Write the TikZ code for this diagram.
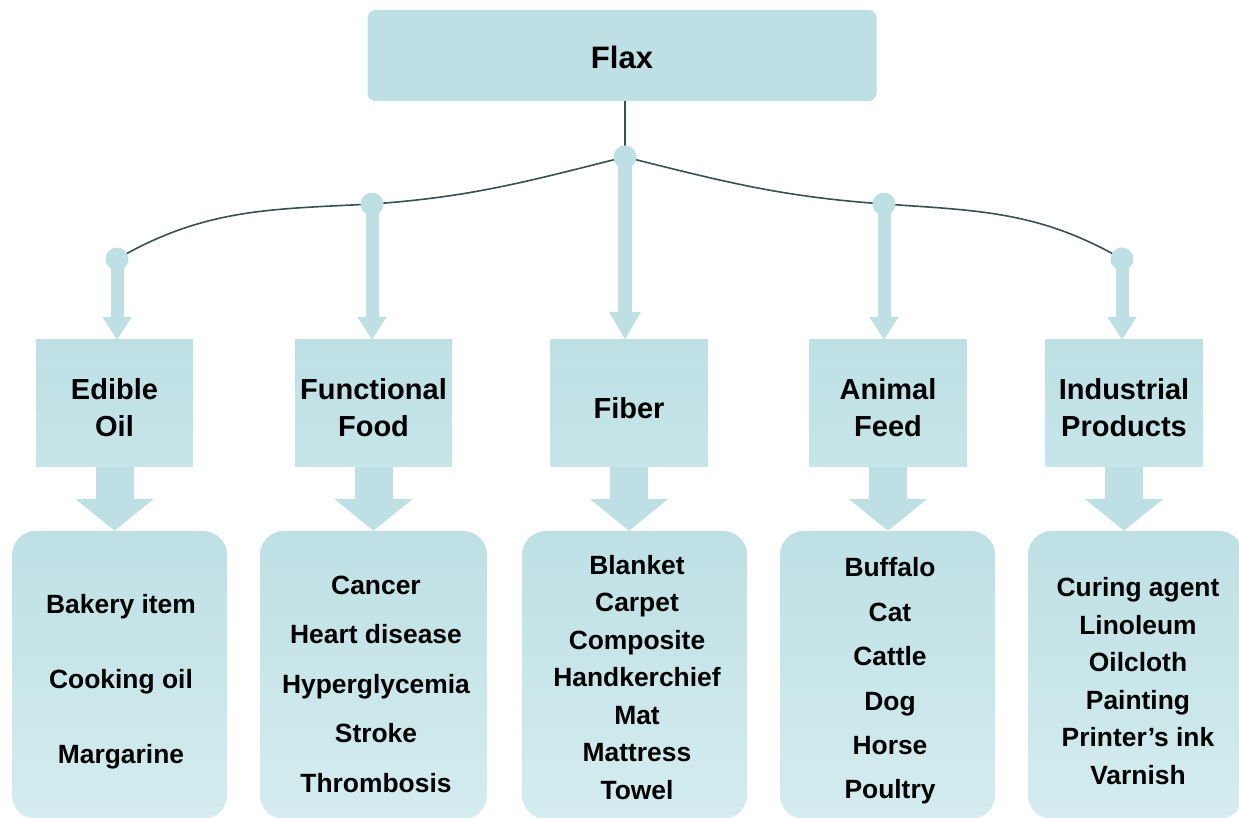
\documentclass[tikz,border=0pt]{standalone}
\usepackage{fontspec}
\setmainfont{Liberation Sans}
\usetikzlibrary{arrows.meta,calc}
\definecolor{flaxfill}{RGB}{190,224,228}
\definecolor{flaxmid}{RGB}{198,229,232}
\definecolor{flaxlight}{RGB}{212,236,239}
\definecolor{wire}{RGB}{55,80,82}
\begin{document}
\begin{tikzpicture}[x=1pt,y=1pt,
  topbox/.style={fill=flaxfill, rounded corners=8pt, minimum width=509pt, minimum height=91pt, inner sep=0pt, text height=26pt, font=\fontsize{31}{37}\selectfont\bfseries},
  midbox/.style={top color=flaxfill, bottom color=flaxmid, minimum width=157pt, minimum height=127pt, inner sep=0pt, align=center, text height=#1, font=\fontsize{29}{37}\selectfont\bfseries},
  midbox/.default=67pt,
  listbox/.style={top color=flaxfill, bottom color=flaxlight, rounded corners=24pt, inner sep=0pt, minimum height=288pt, minimum width=#1},
  itemtext/.style={align=center, inner sep=0pt, font=\fontsize{26.4}{#1}\selectfont\bfseries},
  dot/.style={circle, fill=flaxfill, minimum size=23pt, inner sep=0pt},
  wireline/.style={draw=wire, line width=1.6pt},
  thinarrow/.style={draw=flaxfill, line width=13pt, -{Triangle[width=28pt,length=23pt]}},
  fiberarrow/.style={draw=flaxfill, line width=14pt, -{Triangle[width=30pt,length=28pt]}},
  fatarrow/.style={draw=flaxfill, line width=38pt, -{Triangle[width=77pt,length=32pt]}},
]
\useasboundingbox (0,0) rectangle (1239,818);

% top
\node[topbox] (flax) at (622,762.5) {Flax};

% junctions
\coordinate (J0) at (625,661);
\coordinate (J1) at (372,614);
\coordinate (J2) at (884,614);
\coordinate (J3) at (117,559);
\coordinate (J4) at (1122,559);

% middle boxes
\node[midbox] (edible) at (114.5,414.5) {Edible\\Oil};
\node[midbox] (func)   at (373.5,414.5) {Functional\\Food};
\node[midbox=30pt] (fiber)  at (629,414.5)   {Fiber};
\node[midbox] (animal) at (888,414.5)   {Animal\\Feed};
\node[midbox] (indus)  at (1124,414.5)  {Industrial\\Products};

% bottom boxes
\node[listbox=215pt] (edibleL) at (119.5,143) {};
\node[listbox=227pt] (funcL)   at (373.5,143) {};
\node[listbox=225pt] (fiberL)  at (634.5,143) {};
\node[listbox=215pt] (animalL) at (887.5,143) {};
\node[listbox=215pt] (indusL)  at (1135.5,143) {};

% bottom texts
\node[itemtext=75pt] (edibleT) at (121,136) {Bakery item\\Cooking oil\\Margarine};
\node[itemtext=49.5pt] (funcT) at (376,134) {Cancer\\Heart disease\\Hyperglycemia\\Stroke\\Thrombosis};
\node[itemtext=37.5pt] (fiberT) at (637,140.5) {Blanket\\Carpet\\Composite\\Handkerchief\\Mat\\Mattress\\Towel};
\node[itemtext=44.4pt] (animalT) at (890,137) {Buffalo\\Cat\\Cattle\\Dog\\Horse\\Poultry};
\node[itemtext=37.6pt] (indusT) at (1138,137) {Curing agent\\Linoleum\\Oilcloth\\Painting\\Printer’s ink\\Varnish};

% wires
\draw[wireline] (flax.south -| J0) -- (J0);
\draw[wireline] (J0) to[out=194,in=4] (J1) to[out=183,in=30] (J3);
\draw[wireline] (J0) to[out=-14,in=176] (J2) to[out=-4,in=150] (J4);

% thin arrows
\draw[thinarrow] (J3) -- (J3 |- edible.north);
\draw[thinarrow] (J1) -- (J1 |- func.north);
\draw[fiberarrow] (J0) -- (J0 |- fiber.north);
\draw[thinarrow] (J2) -- (J2 |- animal.north);
\draw[thinarrow] (J4) -- (J4 |- indus.north);

% dots
\node[dot] (d0) at (J0) {};
\node[dot] (d1) at (J1) {};
\node[dot] (d2) at (J2) {};
\node[dot] (d3) at (J3) {};
\node[dot] (d4) at (J4) {};

% fat arrows
\draw[fatarrow] (edible.south) -- (edible.south |- edibleL.north);
\draw[fatarrow] (func.south) -- (func.south |- funcL.north);
\draw[fatarrow] (fiber.south) -- (fiber.south |- fiberL.north);
\draw[fatarrow] (animal.south) -- (animal.south |- animalL.north);
\draw[fatarrow] (indus.south) -- (indus.south |- indusL.north);
\end{tikzpicture}
\end{document}
